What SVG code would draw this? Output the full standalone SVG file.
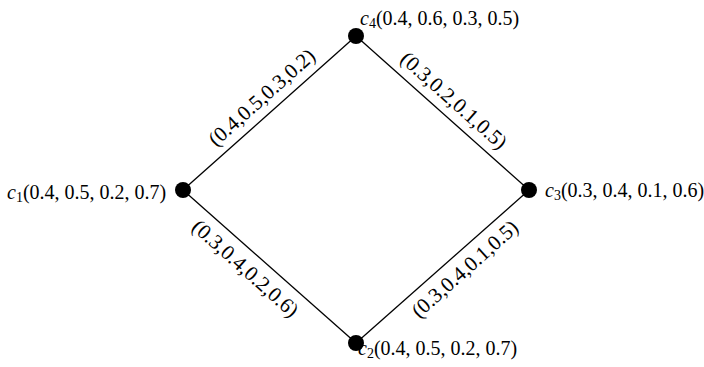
<svg xmlns="http://www.w3.org/2000/svg" width="704" height="367" viewBox="0 0 704 367">
<style>
text{font-family:"Liberation Serif","Times New Roman",serif;fill:#000}
.nl{font-size:20px}
.el{font-size:21px}
.c{font-style:italic}
.sub{font-size:14px}
.edge{stroke:#000;stroke-width:1.3;fill:none}
.dot{fill:#000}
</style>
<rect width="704" height="367" fill="#fff"/>
<g id="connectors">
<line class="edge" x1="183" y1="190" x2="356" y2="36"/>
<line class="edge" x1="356" y1="36" x2="529" y2="190"/>
<line class="edge" x1="183" y1="190" x2="356" y2="343"/>
<line class="edge" x1="356" y1="343" x2="529" y2="190"/>
<g transform="translate(273,110) rotate(-41.67)"><text class="el" x="0" y="-10" text-anchor="middle">(0.4,0.5,0.3,0.2)</text></g>
<g transform="translate(442.6,113.1) rotate(41.67)"><text class="el" x="0" y="-10" text-anchor="middle">(0.3,0.2,0.1,0.5)</text></g>
<g transform="translate(256.7,255.6) rotate(41.67)"><text class="el" x="0" y="24" text-anchor="middle">(0.3,0.4,0.2,0.6)</text></g>
<g transform="translate(453.5,256.2) rotate(-41.67)"><text class="el" x="0" y="24" text-anchor="middle">(0.3,0.4,0.1,0.5)</text></g>
</g>
<g id="c1">
<circle class="dot" cx="183" cy="190" r="8"/>
<text class="nl" x="7" y="199"><tspan class="c">c</tspan><tspan class="sub" dy="3">1</tspan><tspan dy="-3">(0.4, 0.5, 0.2, 0.7)</tspan></text>
</g>
<g id="c2">
<circle class="dot" cx="356" cy="343" r="8"/>
<text class="nl" x="358" y="355"><tspan class="c">c</tspan><tspan class="sub" dy="3">2</tspan><tspan dy="-3">(0.4, 0.5, 0.2, 0.7)</tspan></text>
</g>
<g id="c3">
<circle class="dot" cx="529" cy="190" r="8"/>
<text class="nl" x="545" y="197"><tspan class="c">c</tspan><tspan class="sub" dy="3">3</tspan><tspan dy="-3">(0.3, 0.4, 0.1, 0.6)</tspan></text>
</g>
<g id="c4">
<circle class="dot" cx="356" cy="36" r="8"/>
<text class="nl" x="360" y="25"><tspan class="c">c</tspan><tspan class="sub" dy="3">4</tspan><tspan dy="-3">(0.4, 0.6, 0.3, 0.5)</tspan></text>
</g>
</svg>
